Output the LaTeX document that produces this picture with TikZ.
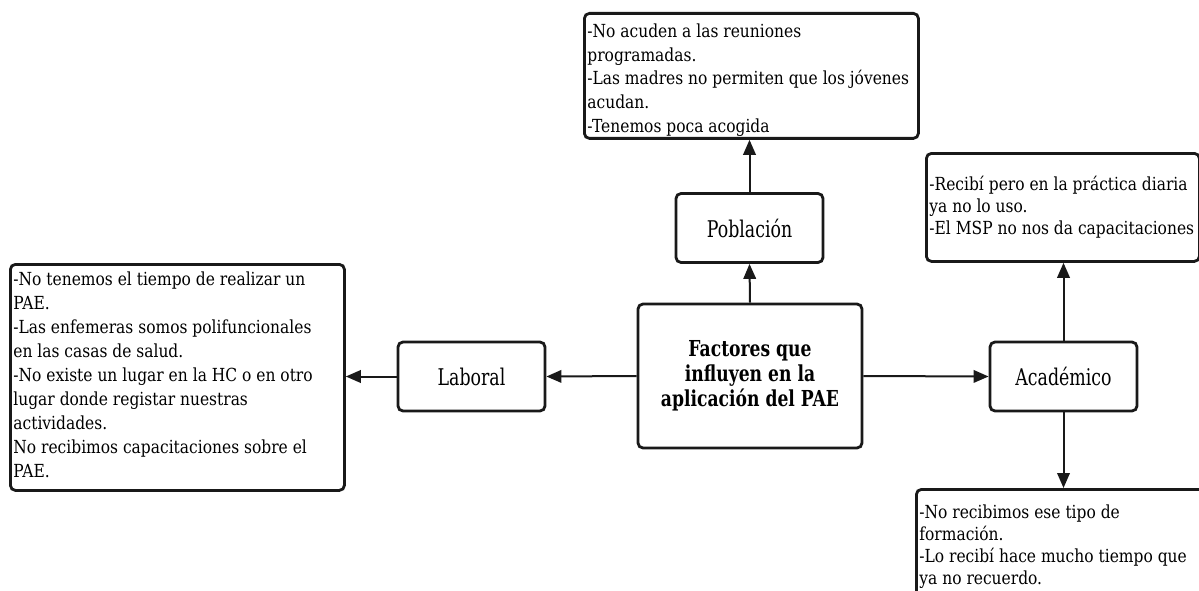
\documentclass[tikz,border=0pt]{standalone}
\usepackage{fontspec}
\setmainfont{DejaVu Serif}
\newfontfamily\bodyf[FakeStretch=0.86]{DejaVu Serif}
\newfontfamily\labf[FakeStretch=0.755]{DejaVu Serif}
\newfontfamily\titf[FakeStretch=0.78]{DejaVu Serif}
\usetikzlibrary{arrows.meta}
\newcommand{\tbx}[5]{\parbox[c][#2][t]{#1}{\raggedright\bodyf\fontsize{18}{#4}\selectfont\rule{0pt}{#3}#5}}
\begin{document}
\begin{tikzpicture}[x=1pt,y=-1pt,
  box/.style={draw=black!90, line width=2.8pt, rounded corners=5pt, fill=white},
  lbl/.style={box, minimum width=147pt, minimum height=69pt, inner sep=0pt, font=\labf\fontsize{23}{26}\selectfont},
  txt/.style={box, anchor=north west, inner xsep=3pt, inner ysep=0pt},
  conn/.style={draw=black!90, line width=2pt, -{Triangle[length=15pt,width=12.5pt]}}]
\useasboundingbox (0,0) rectangle (1199,591);

\node[box, minimum width=224pt, minimum height=144pt, inner sep=0pt, align=center,
  font=\titf\bfseries\fontsize{22}{25}\selectfont] (cen) at (750,376)
  {Factores que\\influyen en la\\aplicación del PAE};
\node[lbl] (pob) at (749.5,228) {Población};
\node[lbl] (lab) at (471.5,376.5) {Laboral};
\node[lbl] (acad) at (1063.5,376.5) {Académico};

\node[txt] (top) at (583,12) {\tbx{328pt}{125pt}{24pt}{23.75pt}{-No acuden a las reuniones\\programadas.\\-Las madres no permiten que los jóvenes\\acudan.\\-Tenemos poca acogida}};
\node[txt] (left) at (9,263) {\tbx{328pt}{226pt}{21pt}{24pt}{-No tenemos el tiempo de realizar un\\PAE.\\-Las enfemeras somos polifuncionales\\en las casas de salud.\\-No existe un lugar en la HC o en otro\\lugar donde registar nuestras\\actividades.\\No recibimos capacitaciones sobre el\\PAE.}};
\node[txt] (tr) at (925,152) {\tbx{267pt}{108pt}{37pt}{22pt}{-Recibí pero en la práctica diaria\\ya no lo uso.\\-El MSP no nos da capacitaciones}};
\node[txt] (br) at (915,488) {\tbx{294pt}{125pt}{29pt}{22pt}{-No recibimos ese tipo de\\formación.\\-Lo recibí hace mucho tiempo que\\ya no recuerdo.}};

\draw[conn] (cen.north) -- (pob.south);
\draw[conn] (pob.north) -- (pob.north |- top.south);
\draw[conn] (cen.west) -- (lab.east);
\draw[conn] (lab.west) -- (lab.west -| left.east);
\draw[conn] (cen.east) -- (acad.west);
\draw[conn] (acad.north) -- (acad.north |- tr.south);
\draw[conn] (acad.south) -- (acad.south |- br.north);
\end{tikzpicture}
\end{document}
